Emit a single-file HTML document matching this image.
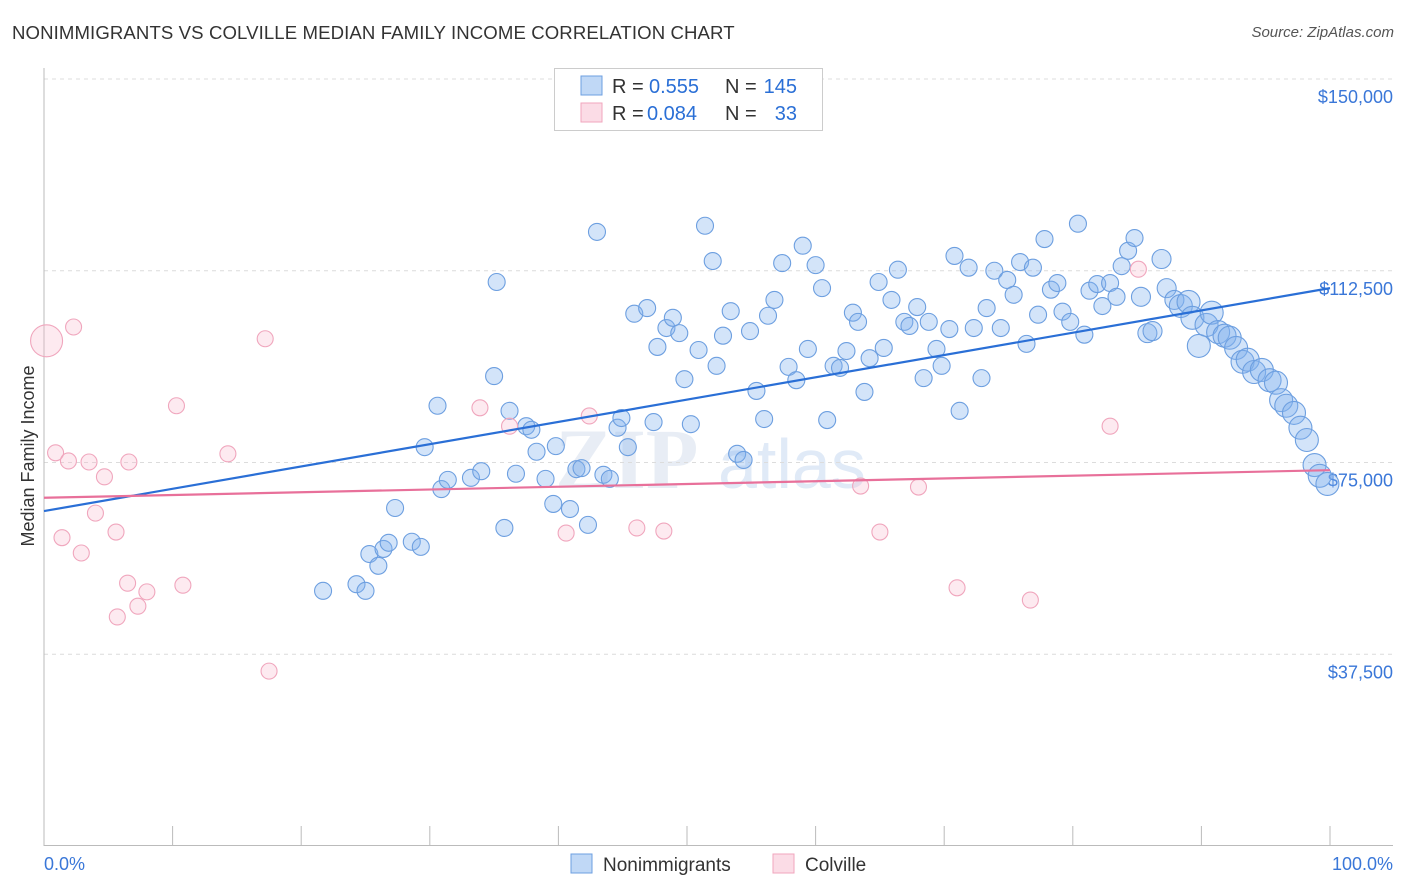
<!DOCTYPE html>
<html><head><meta charset="utf-8">
<style>
body{margin:0;background:#fff;font-family:"Liberation Sans",sans-serif;}
#wrap{position:relative;width:1406px;height:892px;overflow:hidden;}
.title{position:absolute;left:12px;top:22px;font-size:18.6px;color:#333;letter-spacing:0.1px}
.source{position:absolute;right:12px;top:24px;font-size:15px;color:#555;font-style:italic}
</style></head><body>
<div id="wrap">
<div class="title">NONIMMIGRANTS VS COLVILLE MEDIAN FAMILY INCOME CORRELATION CHART</div>
<div class="source">Source: ZipAtlas.com</div>
<svg id="svg" width="1406" height="892" style="position:absolute;left:0;top:0"></svg>
</div>
<script>
const blueX=[21.7,24.3,25.0,25.3,26.0,26.4,26.8,27.3,28.6,29.3,29.6,30.6,30.9,31.4,33.2,34.0,35.0,35.2,35.8,36.2,36.7,37.5,37.9,38.3,39.0,39.6,39.8,40.9,41.4,41.8,42.3,43.0,43.5,44.0,44.6,44.9,45.4,45.9,46.9,47.4,47.7,48.4,48.9,49.4,49.8,50.3,50.9,51.4,52.0,52.3,52.8,53.4,53.9,54.4,54.9,55.4,56.0,56.3,56.8,57.4,57.9,58.5,59.0,59.4,60.0,60.5,60.9,61.4,61.9,62.4,62.9,63.3,63.8,64.2,64.9,65.3,65.9,66.4,66.9,67.3,67.9,68.4,68.8,69.4,69.8,70.4,70.8,71.2,71.9,72.3,72.9,73.3,73.9,74.4,74.9,75.4,75.9,76.4,76.9,77.3,77.8,78.3,78.8,79.2,79.8,80.4,80.9,81.3,81.9,82.3,82.9,83.4,83.8,84.3,84.8,85.3,85.8,86.2,86.9,87.3,87.9,88.4,89.0,89.3,89.8,90.4,90.8,91.3,91.8,92.2,92.7,93.2,93.6,94.1,94.7,95.3,95.8,96.2,96.6,97.2,97.7,98.2,98.8,99.2,99.8];
const blueY=[49.9,51.2,49.9,57.1,54.8,58.1,59.3,66.1,59.5,58.5,78.0,86.1,69.8,71.6,72.0,73.3,91.9,110.3,62.2,85.1,72.8,82.1,81.4,77.1,71.8,66.9,78.2,65.9,73.7,73.9,62.8,120.1,72.6,71.8,81.8,83.7,78.0,104.1,105.2,82.9,97.6,101.3,103.3,100.3,91.3,82.5,97.0,121.3,114.4,93.9,99.8,104.6,76.7,75.5,100.7,89.0,83.5,103.7,106.8,114.0,93.7,91.1,117.4,97.2,113.6,109.1,83.3,93.9,93.5,96.8,104.3,102.5,88.8,95.4,110.3,97.4,106.8,112.7,102.5,101.7,105.4,91.5,102.5,97.2,93.9,101.1,115.4,85.1,113.1,101.3,91.5,105.2,112.5,101.3,110.7,107.8,114.2,98.2,113.1,103.9,118.7,108.8,110.1,104.5,102.5,121.7,100.0,108.6,109.9,105.6,110.1,107.4,113.4,116.4,118.9,107.4,100.3,100.7,114.8,109.1,106.8,105.6,106.4,103.3,97.8,101.9,104.3,100.5,99.8,99.4,97.4,94.7,95.1,92.7,93.1,91.1,90.6,87.2,86.1,84.7,81.8,79.4,74.5,72.4,70.8];
const pinkX=[0.2,0.9,1.4,1.9,2.3,2.9,3.5,4.0,4.7,5.6,5.7,6.5,6.6,7.3,8.0,10.3,10.8,14.3,17.2,17.5,33.9,36.2,40.6,42.4,46.1,48.2,63.5,65.0,68.0,71.0,76.7,82.9,85.1];
const pinkY=[98.8,76.9,60.3,75.3,101.5,57.3,75.1,65.1,72.2,61.4,44.8,51.4,75.1,46.9,49.7,86.1,51.0,76.7,99.2,34.2,85.7,82.1,61.2,84.1,62.2,61.6,70.4,61.4,70.2,50.5,48.1,82.1,112.8];
const blueTrend=[65.5,109.1];
const pinkTrend=[68.1,73.5];
const yTicks=[37.5,75,112.5,150];
const yTickLabels=["$37,500","$75,000","$112,500","$150,000"];

const NS="http://www.w3.org/2000/svg";
const svg=document.getElementById('svg');
const X=p=>44+p*12.86;
const Y=v=>846-v*767/150;
function mk(t,a,parent){const e=document.createElementNS(NS,t);for(const k in a)e.setAttribute(k,a[k]);(parent||svg).appendChild(e);return e;}

let wm=mk('text',{x:555,y:488,'font-size':86,fill:'#e8edf5','font-family':'Liberation Serif, serif','font-weight':'bold'});
wm.textContent='ZIP';


let wm2=mk('text',{x:718,y:488,'font-size':70,fill:'#e0eaf7','font-family':'Liberation Sans, sans-serif'});
wm2.textContent='atlas';



yTicks.forEach((v,i)=>{
  const g=mk('line',{x1:44,x2:1393,y1:Y(v),y2:Y(v),stroke:'#dcdcdc','stroke-dasharray':'4,4','stroke-width':1});
  
  
  const t=mk('text',{x:1393,y:Y(v)+24,'text-anchor':'end','font-size':18,fill:'#3a77d8'});
  t.textContent=yTickLabels[i];
  
  
});
let ax=mk('line',{x1:44,x2:44,y1:68,y2:846,stroke:'#bbb'});


let bx=mk('line',{x1:44,x2:1393,y1:845.5,y2:845.5,stroke:'#bbb'});


for(let i=0;i<=10;i++){
  const tk=mk('line',{x1:X(i*10),x2:X(i*10),y1:826,y2:846,stroke:'#bbb'});
  
  
}
let xl=mk('text',{x:44,y:870,'font-size':18,fill:'#3a77d8'});xl.textContent='0.0%';


let xr=mk('text',{x:1393,y:870,'font-size':18,fill:'#3a77d8','text-anchor':'end'});xr.textContent='100.0%';


let yt=mk('text',{x:34,y:456,'font-size':18,fill:'#333','text-anchor':'middle',transform:'rotate(-90 34 456)'});
yt.textContent='Median Family Income';



blueX.forEach((x,i)=>{
  const r=x>88?11.5:(x>85?9.5:8.5);
  const c=mk('circle',{cx:X(x),cy:Y(blueY[i]),r:r,fill:'rgba(130,178,238,0.35)',stroke:'#6d9fe0','stroke-width':1.1});
  
  
});
pinkX.forEach((x,i)=>{
  const r=i===0?16:8;
  const c=mk('circle',{cx:X(x),cy:Y(pinkY[i]),r:r,fill:'rgba(248,185,205,0.3)',stroke:'#f0a6bd','stroke-width':1.1});
  
  
});
let bl=mk('line',{x1:X(0),y1:Y(blueTrend[0]),x2:X(100),y2:Y(blueTrend[1]),stroke:'#2a6fd6','stroke-width':2.2});


let pl=mk('line',{x1:X(0),y1:Y(pinkTrend[0]),x2:X(100),y2:Y(pinkTrend[1]),stroke:'#e8709a','stroke-width':2.2});



let lg=mk('g',{});


mk('rect',{x:554.5,y:68.5,width:268,height:62,fill:'#fff',stroke:'#ccc'},lg);
mk('rect',{x:581,y:76,width:21,height:19,fill:'rgba(130,178,238,0.5)',stroke:'#6d9fe0'},lg);
mk('rect',{x:581,y:103,width:21,height:19,fill:'rgba(248,185,205,0.5)',stroke:'#f0a6bd'},lg);
function lt(x,y,s,col,anchor){const t=mk('text',{x:x,y:y,'font-size':20,fill:col,'text-anchor':anchor||'start'},lg);t.textContent=s;return t;}
lt(612,93,'R =','#333');lt(649,93,'0.555','#2a6fd6');lt(725,93,'N =','#333');lt(797,93,'145','#2a6fd6','end');
lt(612,120,'R =','#333');lt(647,120,'0.084','#2a6fd6');lt(725,120,'N =','#333');lt(797,120,'33','#2a6fd6','end');

let b1=mk('rect',{x:571,y:854,width:21,height:19,fill:'rgba(130,178,238,0.5)',stroke:'#6d9fe0'});


let bt1=mk('text',{x:603,y:871,'font-size':19,fill:'#333'});bt1.textContent='Nonimmigrants';


let b2=mk('rect',{x:773,y:854,width:21,height:19,fill:'rgba(248,185,205,0.5)',stroke:'#f0a6bd'});


let bt2=mk('text',{x:805,y:871,'font-size':19,fill:'#333'});bt2.textContent='Colville';


</script>
</body></html>
